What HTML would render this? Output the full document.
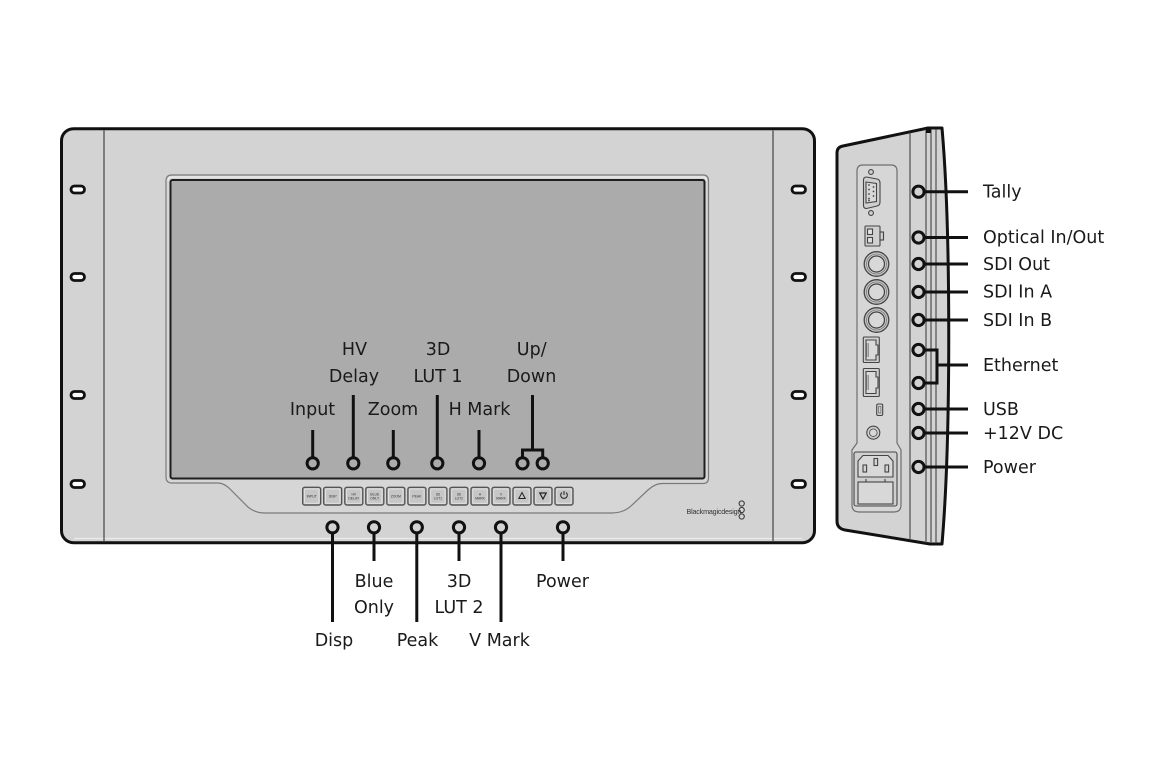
<!DOCTYPE html>
<html><head><meta charset="utf-8"><style>
html,body{margin:0;padding:0;background:#fff;}
svg{display:block;}
.lb{font-family:"DejaVu Sans","Liberation Sans",sans-serif;font-size:17.5px;fill:#1a1a1a;}
.bt{font-family:"Liberation Sans",sans-serif;font-size:3.4px;fill:#333;text-anchor:middle;}
</style></head><body>
<svg width="1170" height="780" viewBox="0 0 1170 780" xmlns="http://www.w3.org/2000/svg">
<rect width="1170" height="780" fill="#fff"/>

<!-- MAIN FRONT PANEL -->
<rect x="61.5" y="128.7" width="753" height="414" rx="12" fill="#d3d3d3" stroke="#111" stroke-width="3"/>
<line x1="74" y1="538.5" x2="802" y2="538.5" stroke="#ececec" stroke-width="1.2"/>
<line x1="104" y1="130.5" x2="104" y2="541" stroke="#444" stroke-width="1.2"/>
<line x1="773" y1="130.5" x2="773" y2="541" stroke="#444" stroke-width="1.2"/>

<!-- rack holes -->
<g fill="#fff" stroke="#111" stroke-width="2.8">
<rect x="71" y="186" width="13.5" height="7" rx="3.5"/>
<rect x="71" y="273.5" width="13.5" height="7" rx="3.5"/>
<rect x="71" y="391.5" width="13.5" height="7" rx="3.5"/>
<rect x="71" y="480.5" width="13.5" height="7" rx="3.5"/>
<rect x="792" y="186" width="13.5" height="7" rx="3.5"/>
<rect x="792" y="273.5" width="13.5" height="7" rx="3.5"/>
<rect x="792" y="391.5" width="13.5" height="7" rx="3.5"/>
<rect x="792" y="480.5" width="13.5" height="7" rx="3.5"/>
</g>

<!-- bezel -->
<path d="M166,181 Q166,175 172,175 L703,175 Q708.5,175 708.5,181 L708.5,478 Q708.5,483.5 703,483.5 L662,483.5 Q655,483.5 648,490 L632,505 Q624,513 612,513 L265,513 Q255,513 248,507 L230,489 Q224,483 218,483 L172,483 Q166,483 166,477 Z" fill="#d6d6d6" stroke="#7a7a7a" stroke-width="1.2"/>
<path d="M168,181 Q168,177 172,177 L703,177 Q706.5,177 706.5,181" fill="none" stroke="#f2f2f2" stroke-width="1"/>
<!-- screen -->
<rect x="170.5" y="180" width="534" height="298.5" rx="2" fill="#ababab" stroke="#1e1e1e" stroke-width="2"/>

<!-- buttons -->
<g>
<g fill="#c6c6c6" stroke="#555" stroke-width="1.4">
<rect x="302.7" y="487.3" width="18" height="17.7" rx="2"/>
<rect x="323.7" y="487.3" width="18" height="17.7" rx="2"/>
<rect x="344.8" y="487.3" width="18" height="17.7" rx="2"/>
<rect x="365.8" y="487.3" width="18" height="17.7" rx="2"/>
<rect x="386.8" y="487.3" width="18" height="17.7" rx="2"/>
<rect x="407.9" y="487.3" width="18" height="17.7" rx="2"/>
<rect x="428.9" y="487.3" width="18" height="17.7" rx="2"/>
<rect x="449.9" y="487.3" width="18" height="17.7" rx="2"/>
<rect x="471.0" y="487.3" width="18" height="17.7" rx="2"/>
<rect x="492.0" y="487.3" width="18" height="17.7" rx="2"/>
<rect x="513.0" y="487.3" width="18" height="17.7" rx="2"/>
<rect x="534.0" y="487.3" width="18" height="17.7" rx="2"/>
<rect x="555.0" y="487.3" width="18" height="17.7" rx="2"/>
</g>
<g fill="none" stroke="#e6e6e6" stroke-width="0.8">
<rect x="304.5" y="489" width="14.4" height="14.3" rx="1"/>
<rect x="325.5" y="489" width="14.4" height="14.3" rx="1"/>
<rect x="346.6" y="489" width="14.4" height="14.3" rx="1"/>
<rect x="367.6" y="489" width="14.4" height="14.3" rx="1"/>
<rect x="388.6" y="489" width="14.4" height="14.3" rx="1"/>
<rect x="409.7" y="489" width="14.4" height="14.3" rx="1"/>
<rect x="430.7" y="489" width="14.4" height="14.3" rx="1"/>
<rect x="451.7" y="489" width="14.4" height="14.3" rx="1"/>
<rect x="472.8" y="489" width="14.4" height="14.3" rx="1"/>
<rect x="493.8" y="489" width="14.4" height="14.3" rx="1"/>
<rect x="514.8" y="489" width="14.4" height="14.3" rx="1"/>
<rect x="535.8" y="489" width="14.4" height="14.3" rx="1"/>
<rect x="556.8" y="489" width="14.4" height="14.3" rx="1"/>
</g>
<text class="bt" x="311.7" y="497.5">INPUT</text>
<text class="bt" x="332.7" y="497.5">DISP</text>
<text class="bt" x="353.8" y="495.5">HV</text><text class="bt" x="353.8" y="499.5">DELAY</text>
<text class="bt" x="374.8" y="495.5">BLUE</text><text class="bt" x="374.8" y="499.5">ONLY</text>
<text class="bt" x="395.8" y="497.5">ZOOM</text>
<text class="bt" x="416.9" y="497.5">PEAK</text>
<text class="bt" x="437.9" y="495.5">3D</text><text class="bt" x="437.9" y="499.5">LUT1</text>
<text class="bt" x="458.9" y="495.5">3D</text><text class="bt" x="458.9" y="499.5">LUT2</text>
<text class="bt" x="480.0" y="495.5">H</text><text class="bt" x="480.0" y="499.5">MARK</text>
<text class="bt" x="501.0" y="495.5">V</text><text class="bt" x="501.0" y="499.5">MARK</text>
<path d="M522,492.5 L525.2,498.5 L518.8,498.5 Z" fill="none" stroke="#222" stroke-width="1"/>
<path d="M543,499 L546.2,493 L539.8,493 Z" fill="none" stroke="#222" stroke-width="1.2"/>
<path d="M562,492.5 A3.3,3.3 0 1 0 566,492.5" fill="none" stroke="#222" stroke-width="1"/>
<line x1="564" y1="491" x2="564" y2="495" stroke="#222" stroke-width="1"/>
</g>

<!-- logo -->
<text x="686.5" y="514" font-family="Liberation Sans, sans-serif" font-size="7.2" fill="#333" letter-spacing="-0.2">Blackmagicdesign</text>
<g fill="none" stroke="#333" stroke-width="1">
<circle cx="741.7" cy="503.5" r="2.6"/>
<circle cx="741.7" cy="510" r="2.6"/>
<circle cx="741.7" cy="516.5" r="2.6"/>
</g>

<!-- top callouts -->
<g stroke="#111" stroke-width="3" fill="none">
<line x1="312.7" y1="430" x2="312.7" y2="457"/>
<line x1="353.3" y1="395" x2="353.3" y2="457"/>
<line x1="393.3" y1="430" x2="393.3" y2="457"/>
<line x1="437.3" y1="395" x2="437.3" y2="457"/>
<line x1="479" y1="430" x2="479" y2="457"/>
<line x1="532.5" y1="395" x2="532.5" y2="450"/>
<polyline points="522.5,457 522.5,450 542.7,450 542.7,457"/>
<circle cx="312.7" cy="463.3" r="5.6"/>
<circle cx="353.3" cy="463.3" r="5.6"/>
<circle cx="393.3" cy="463.3" r="5.6"/>
<circle cx="437.3" cy="463.3" r="5.6"/>
<circle cx="479" cy="463.3" r="5.6"/>
<circle cx="522.5" cy="463.3" r="5.6"/>
<circle cx="542.7" cy="463.3" r="5.6"/>
</g>
<g class="lb" text-anchor="middle">
<text x="354.5" y="355">HV</text>
<text x="354" y="382">Delay</text>
<text x="438" y="355">3D</text>
<text x="438" y="382">LUT 1</text>
<text x="531.7" y="355">Up/</text>
<text x="531.5" y="382">Down</text>
<text x="312.5" y="415">Input</text>
<text x="393" y="415">Zoom</text>
<text x="479.5" y="415">H Mark</text>
</g>

<!-- bottom callouts -->
<g stroke="#111" stroke-width="3" fill="none">
<line x1="332.5" y1="533" x2="332.5" y2="622"/>
<line x1="374" y1="533" x2="374" y2="561"/>
<line x1="416.8" y1="533" x2="416.8" y2="622"/>
<line x1="459" y1="533" x2="459" y2="561"/>
<line x1="501" y1="533" x2="501" y2="622"/>
<line x1="563" y1="533" x2="563" y2="561"/>
<circle cx="332.5" cy="527.3" r="5.6"/>
<circle cx="374" cy="527.3" r="5.6"/>
<circle cx="416.8" cy="527.3" r="5.6"/>
<circle cx="459" cy="527.3" r="5.6"/>
<circle cx="501" cy="527.3" r="5.6"/>
<circle cx="563" cy="527.3" r="5.6"/>
</g>
<g class="lb" text-anchor="middle">
<text x="374" y="587">Blue</text>
<text x="374" y="613">Only</text>
<text x="459" y="587">3D</text>
<text x="459" y="613">LUT 2</text>
<text x="562.5" y="587">Power</text>
<text x="334" y="646">Disp</text>
<text x="417.5" y="646">Peak</text>
<text x="499.5" y="646">V Mark</text>
</g>

<!-- SIDE PANEL -->
<path d="M843,146 L928,128 L942,128 C951,230 951,440 942,544 L930,544 L845,530 Q837,528.5 837,521 L837,153 Q837,147 843,146 Z" fill="#d3d3d3" stroke="#111" stroke-width="3" stroke-linejoin="round"/>
<g stroke="#444" stroke-width="1.1">
<line x1="910" y1="132.5" x2="910" y2="540"/>
<line x1="926" y1="129" x2="926" y2="543"/>
<line x1="931" y1="129" x2="931" y2="543"/>
<line x1="936" y1="129" x2="936" y2="543"/>
</g>
<rect x="926" y="128" width="5" height="5" fill="#111"/>

<!-- connector inset -->
<path d="M857,171 Q857,165 863,165 L891,165 Q897,165 897,171 L897,443 L901,450 L901,505 Q901,512 894,512 L859,512 Q852,512 852,505 L852,450 L857,443 Z" fill="#d6d6d6" stroke="#6e6e6e" stroke-width="1.2"/>

<!-- DB9 -->
<g stroke="#444" stroke-width="1.1" fill="#cfcfcf">
<circle cx="871" cy="172" r="2.4"/>
<circle cx="871" cy="213" r="2.4"/>
<path d="M863.5,180 Q863.5,177 866.5,177 L877,179 Q880,179.6 880,183 L880,202 Q880,205.4 877,206 L866.5,208.5 Q863.5,208.5 863.5,205.5 Z"/>
<path d="M866,182 L876.5,183.5 L876.5,201.5 L866,203 Z" fill="#d8d8d8"/>
</g>
<g fill="#444">
<circle cx="869" cy="185" r="0.9"/><circle cx="869" cy="189.5" r="0.9"/><circle cx="869" cy="194" r="0.9"/><circle cx="869" cy="198.5" r="0.9"/>
<circle cx="873.5" cy="187" r="0.9"/><circle cx="873.5" cy="191.5" r="0.9"/><circle cx="873.5" cy="196" r="0.9"/>
<circle cx="869" cy="200.5" r="0.9"/>
</g>

<!-- optical -->
<g stroke="#444" stroke-width="1.1" fill="#d0d0d0">
<rect x="865" y="226" width="15" height="20" rx="1"/>
<rect x="880" y="232" width="3.5" height="8"/>
<rect x="867.5" y="229" width="5" height="5.5" fill="#e0e0e0"/>
<rect x="867.5" y="237.5" width="5" height="5.5" fill="#e0e0e0"/>
</g>

<!-- BNC -->
<g stroke="#444" stroke-width="1.3">
<circle cx="876.5" cy="264" r="12.3" fill="#c4c4c4"/>
<circle cx="876.5" cy="264" r="10" fill="#d0d0d0" stroke="#777" stroke-width="0.8"/>
<circle cx="876.5" cy="264" r="8" fill="#d8d8d8"/>
<circle cx="876.5" cy="292" r="12.3" fill="#c4c4c4"/>
<circle cx="876.5" cy="292" r="10" fill="#d0d0d0" stroke="#777" stroke-width="0.8"/>
<circle cx="876.5" cy="292" r="8" fill="#d8d8d8"/>
<circle cx="876.5" cy="320" r="12.3" fill="#c4c4c4"/>
<circle cx="876.5" cy="320" r="10" fill="#d0d0d0" stroke="#777" stroke-width="0.8"/>
<circle cx="876.5" cy="320" r="8" fill="#d8d8d8"/>
</g>

<!-- Ethernet -->
<g stroke="#444" stroke-width="1.1" fill="#d0d0d0">
<rect x="863.3" y="337" width="16" height="25.5" rx="1"/>
<path d="M866,340 L876,340 L876,345 L878,345 L878,355 L876,355 L876,360 L866,360 Z" fill="#dadada"/>
<rect x="863.3" y="368.5" width="16" height="28" rx="1"/>
<path d="M866,371.5 L876,371.5 L876,377 L878,377 L878,388 L876,388 L876,393.5 L866,393.5 Z" fill="#dadada"/>
</g>
<g stroke="#666" stroke-width="0.6">
<line x1="867" y1="343" x2="867" y2="357"/>
<line x1="868.5" y1="343" x2="868.5" y2="357"/>
<line x1="867" y1="375" x2="867" y2="390"/>
<line x1="868.5" y1="375" x2="868.5" y2="390"/>
</g>

<!-- USB -->
<rect x="876.7" y="404" width="6" height="11.5" rx="1.5" fill="#d0d0d0" stroke="#444" stroke-width="1.1"/>
<rect x="878.5" y="406.5" width="2.4" height="6.5" fill="none" stroke="#555" stroke-width="0.6"/>

<!-- DC jack -->
<circle cx="873.3" cy="432.7" r="6.5" fill="#d0d0d0" stroke="#444" stroke-width="1.1"/>
<circle cx="873.3" cy="432.7" r="3.8" fill="#d8d8d8" stroke="#555" stroke-width="0.9"/>

<!-- Power inlet -->
<g stroke="#444" stroke-width="1.1">
<rect x="854" y="452" width="43" height="54" rx="2" fill="#cfcfcf"/>
<path d="M858,461 L863,455.5 L888,455.5 L893,461 L893,477 L858,477 Z" fill="#d8d8d8"/>
<rect x="858" y="482" width="35" height="22" fill="#d8d8d8"/>
<line x1="866" y1="479" x2="866" y2="482"/>
<line x1="885" y1="479" x2="885" y2="482"/>
<rect x="863" y="465" width="3.6" height="7" fill="#d3d3d3"/>
<rect x="874" y="458.5" width="3.6" height="7" fill="#d3d3d3"/>
<rect x="885" y="465" width="3.6" height="7" fill="#d3d3d3"/>
</g>

<!-- side callouts -->
<g stroke="#111" stroke-width="3" fill="none">
<line x1="924.5" y1="191.7" x2="968" y2="191.7"/>
<line x1="924.5" y1="237.5" x2="968" y2="237.5"/>
<line x1="924.5" y1="264" x2="968" y2="264"/>
<line x1="924.5" y1="292" x2="968" y2="292"/>
<line x1="924.5" y1="320" x2="968" y2="320"/>
<polyline points="924.5,350 937,350 937,383 924.5,383"/>
<line x1="937" y1="365" x2="968" y2="365"/>
<line x1="924.5" y1="409" x2="968" y2="409"/>
<line x1="924.5" y1="433" x2="968" y2="433"/>
<line x1="924.5" y1="467" x2="968" y2="467"/>
</g>
<g stroke="#111" stroke-width="3" fill="#d3d3d3">
<circle cx="918.5" cy="191.7" r="5.6"/>
<circle cx="918.5" cy="237.5" r="5.6"/>
<circle cx="918.5" cy="264" r="5.6"/>
<circle cx="918.5" cy="292" r="5.6"/>
<circle cx="918.5" cy="320" r="5.6"/>
<circle cx="918.5" cy="350" r="5.6"/>
<circle cx="918.5" cy="383" r="5.6"/>
<circle cx="918.5" cy="409" r="5.6"/>
<circle cx="918.5" cy="433" r="5.6"/>
<circle cx="918.5" cy="467" r="5.6"/>
</g>
<g class="lb">
<text x="983" y="197.5">Tally</text>
<text x="983" y="243">Optical In/Out</text>
<text x="983" y="270">SDI Out</text>
<text x="983" y="297.5">SDI In A</text>
<text x="983" y="326">SDI In B</text>
<text x="983" y="371">Ethernet</text>
<text x="983" y="415">USB</text>
<text x="983" y="439">+12V DC</text>
<text x="983" y="473">Power</text>
</g>
</svg>
</body></html>
